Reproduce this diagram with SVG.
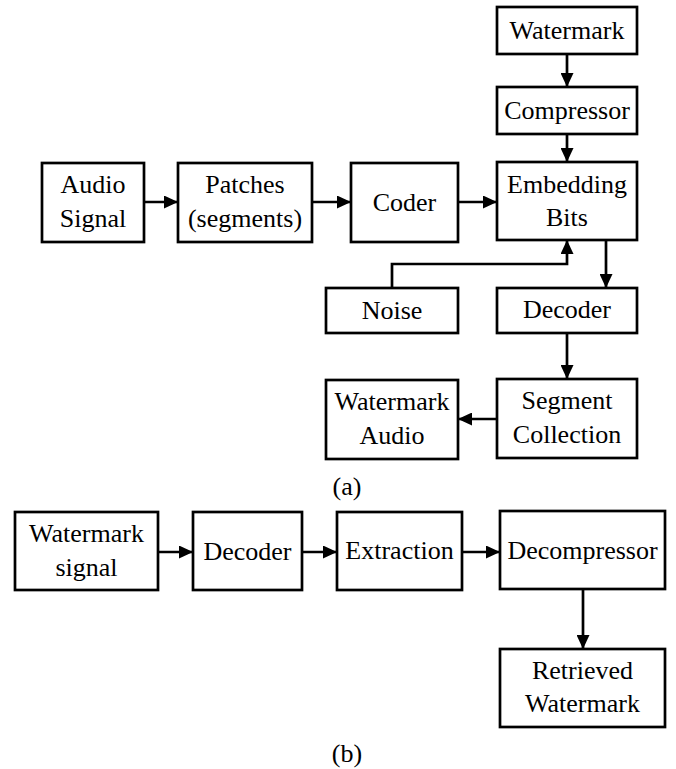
<svg xmlns="http://www.w3.org/2000/svg" width="676" height="769" viewBox="0 0 676 769">
<style>
.box{fill:#fff;stroke:#000;stroke-width:2.7}
.t{font-family:'Liberation Serif','DejaVu Serif','Times New Roman',serif;font-size:26px;text-anchor:middle;fill:#000}
.c{fill:none;stroke:#000;stroke-width:2.7}
</style>
<defs>
<marker id="ah" markerUnits="userSpaceOnUse" markerWidth="14" markerHeight="13" refX="14" refY="6.5" orient="auto">
<path d="M0,0 L14,6.5 L0,13 z" fill="#000"/>
</marker>
</defs>
<rect width="676" height="769" fill="#fff"/>
<g id="connectors">
<path class="c" d="M567 54 V87" marker-end="url(#ah)"/>
<path class="c" d="M567 134 V162" marker-end="url(#ah)"/>
<path class="c" d="M144 202 H178" marker-end="url(#ah)"/>
<path class="c" d="M312 202 H351" marker-end="url(#ah)"/>
<path class="c" d="M458 202 H497" marker-end="url(#ah)"/>
<path class="c" d="M392 288 V264 H567 V240" marker-end="url(#ah)"/>
<path class="c" d="M606 240 V288" marker-end="url(#ah)"/>
<path class="c" d="M567 333 V379" marker-end="url(#ah)"/>
<path class="c" d="M497 419 H458" marker-end="url(#ah)"/>
<path class="c" d="M158 552 H193" marker-end="url(#ah)"/>
<path class="c" d="M302 552 H337" marker-end="url(#ah)"/>
<path class="c" d="M462 552 H500" marker-end="url(#ah)"/>
<path class="c" d="M583 589 V649" marker-end="url(#ah)"/>
</g>
<g id="watermark"><rect class="box" x="497" y="7" width="140" height="47"/><text class="t" font-family="Liberation Serif, serif" x="567" y="39">Watermark</text></g>
<g id="compressor"><rect class="box" x="497" y="87" width="140" height="47"/><text class="t" x="567" y="119">Compressor</text></g>
<g id="audio-signal"><rect class="box" x="42" y="163" width="102" height="79"/><text class="t" x="93" y="193">Audio</text><text class="t" x="93" y="227">Signal</text></g>
<g id="patches"><rect class="box" x="178" y="163" width="134" height="79"/><text class="t" x="245" y="193">Patches</text><text class="t" x="245" y="227">(segments)</text></g>
<g id="coder"><rect class="box" x="351" y="163" width="107" height="79"/><text class="t" x="404.5" y="211">Coder</text></g>
<g id="embedding-bits"><rect class="box" x="497" y="162" width="140" height="78"/><text class="t" x="567" y="193">Embedding</text><text class="t" x="567" y="226">Bits</text></g>
<g id="noise"><rect class="box" x="326" y="288" width="132" height="45"/><text class="t" x="392" y="319">Noise</text></g>
<g id="decoder-a"><rect class="box" x="497" y="288" width="140" height="45"/><text class="t" x="567" y="318">Decoder</text></g>
<g id="watermark-audio"><rect class="box" x="326" y="380" width="132" height="79"/><text class="t" x="392" y="410">Watermark</text><text class="t" x="392" y="444">Audio</text></g>
<g id="segment-collection"><rect class="box" x="497" y="379" width="140" height="79"/><text class="t" x="567" y="409">Segment</text><text class="t" x="567" y="443">Collection</text></g>
<g id="caption-a"><text class="t" x="347" y="495">(a)</text></g>
<g id="watermark-signal"><rect class="box" x="15" y="512" width="143" height="78"/><text class="t" x="86.5" y="542">Watermark</text><text class="t" x="86.5" y="576">signal</text></g>
<g id="decoder-b"><rect class="box" x="193" y="512" width="109" height="78"/><text class="t" x="247.5" y="560">Decoder</text></g>
<g id="extraction"><rect class="box" x="337" y="512" width="125" height="78"/><text class="t" x="399.5" y="559">Extraction</text></g>
<g id="decompressor"><rect class="box" x="500" y="511" width="165" height="78"/><text class="t" x="582.5" y="559">Decompressor</text></g>
<g id="retrieved-watermark"><rect class="box" x="500" y="649" width="165" height="78"/><text class="t" x="582.5" y="679">Retrieved</text><text class="t" x="582.5" y="712">Watermark</text></g>
<g id="caption-b"><text class="t" x="347" y="762">(b)</text></g>
</svg>
